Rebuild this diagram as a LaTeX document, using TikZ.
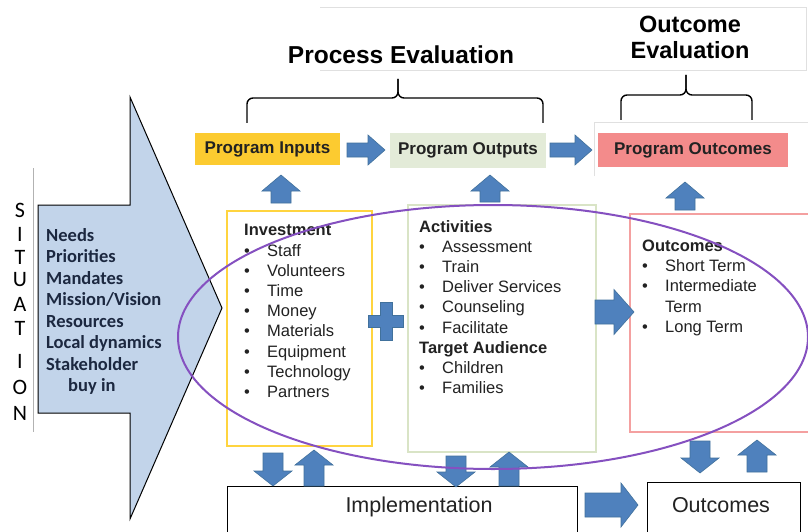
\documentclass[tikz,border=0pt]{standalone}
\usepackage{fontspec}
\setmainfont{Liberation Sans}
\newfontfamily\calfont{Carlito}
\usetikzlibrary{calc}
\definecolor{ablue}{HTML}{4F81BD}
\definecolor{aedge}{HTML}{41719C}
\definecolor{sitblue}{HTML}{C2D4EA}
\definecolor{inyellow}{HTML}{FCCB30}
\definecolor{outgreen}{HTML}{E3EBD8}
\definecolor{ocred}{HTML}{F38B8B}
\definecolor{boxyellow}{HTML}{FFD43F}
\definecolor{boxgreen}{HTML}{D9E4C6}
\definecolor{boxpink}{HTML}{F4A0A0}
\definecolor{purp}{HTML}{8550C0}
\definecolor{navy}{HTML}{1C2840}
\definecolor{txt}{HTML}{222222}
\tikzset{
  pics/barrow/.style n args={4}{code={
    \filldraw[fill=ablue, draw=aedge, line width=0.6]
      (-#1/2,-#2) -- (#1/2-#4,-#2) -- (#1/2-#4,-#3) -- (#1/2,0) --
      (#1/2-#4,#3) -- (#1/2-#4,#2) -- (-#1/2,#2) -- cycle;
  }},
  toplabel/.style={inner sep=0, font=\fontsize{17}{19}\selectfont\bfseries, text=txt},
  item/.style={anchor=base west, inner sep=0, font=\fontsize{16.5}{18}\selectfont, text=txt},
  ititle/.style={anchor=base west, inner sep=0, font=\fontsize{16.5}{18}\selectfont\bfseries, text=txt},
  sitline/.style={anchor=base west, inner sep=0, font=\calfont\bfseries\fontsize{18.5}{21}\selectfont, text=navy},
  sitl/.style={inner sep=0, font=\calfont\fontsize{22}{24}\selectfont, text=black},
  evtitle/.style={inner sep=0, font=\fontsize{23.5}{26}\selectfont\bfseries, text=black, align=center},
  bottomlabel/.style={inner sep=0, font=\fontsize{21.5}{24}\selectfont, text=txt},
  brace/.style={line width=1.4, rounded corners=6},
  faint/.style={draw=black!12, line width=0.8},
}
\begin{document}
\begin{tikzpicture}[x=1pt,y=-1pt]
\useasboundingbox (0,0) rectangle (808,532);
\fill[white] (0,0) rectangle (808,532);

% faint frame lines
\draw[faint] (320,7) -- (806,7) -- (806,70) -- (320,70);
\draw[faint] (594,176) -- (594,122) -- (808,122);
\draw[draw=black!30, line width=0.8] (33,168) -- (33,432);

% evaluation titles and braces
\node[evtitle, font=\fontsize{24.5}{26}\selectfont\bfseries] (pe) at (401,55) {Process Evaluation};
\node[evtitle] (oe1) at (690,24) {Outcome};
\node[evtitle] (oe2) at (690,50) {Evaluation};
\draw[brace] (247,123) -- (247,98) -- (398,98) -- (398,79);
\draw[brace] (543,123) -- (543,98) -- (398,98) -- (398,79);
\draw[brace] (621,120) -- (621,95) -- (686,95) -- (686,75);
\draw[brace] (752,120) -- (752,95) -- (686,95) -- (686,75);

% situation arrow
\draw[fill=sitblue, line width=1] (38,205) -- (130,205) -- (130,97) -- (222,308)
  -- (130,519) -- (130,413) -- (38,413) -- cycle;
\foreach \t [count=\i from 0] in {Needs,Priorities,Mandates,Mission/Vision,Resources,Local dynamics,Stakeholder}
  \node[sitline] (sit\i) at (46,241+21.5*\i) {\t};
\node[sitline] (sit7) at (68,391.5) {buy in};
\foreach \L/\yy [count=\i] in {S/210,I/234,T/257,U/280,A/304,T/328,I/361,O/387,N/413}
  \node[sitl] (sl\i) at (20,\yy) {\L};

% top program boxes
\node[fill=inyellow, minimum width=145, minimum height=32, inner sep=0] (pin) at (267.5,149) {};
\node[toplabel] (pinl) at (pin.center) {Program Inputs};
\node[fill=outgreen, minimum width=156, minimum height=35, inner sep=0] (pout) at (468,150.5) {};
\node[toplabel] (poutl) at (pout.center) {Program Outputs};
\node[fill=ocred, minimum width=190, minimum height=34, inner sep=0] (poc) at (693,150) {};
\node[toplabel] (pocl) at (poc.center) {Program Outcomes};

\pic at (366,150) {barrow={38}{7}{15}{17}};
\pic at (571,150) {barrow={42}{7}{15}{17}};

% up arrows to program boxes
\pic[rotate=90] at (281,189) {barrow={28}{10}{19}{16}};
\pic[rotate=90] at (490,188.5) {barrow={27}{10}{19}{16}};
\pic[rotate=90] at (685,196) {barrow={28}{10}{19}{16}};

% content boxes
\draw[draw=boxyellow, line width=2.5] (227,211) rectangle (372,446);
\draw[draw=boxgreen, line width=2] (408,205) rectangle (596,452);
\draw[draw=boxpink, line width=2.2] (812,214) -- (630,214) -- (630,432) -- (812,432);

% investment
\node[ititle] (invh) at (244,235.5) {Investment};
\foreach \t [count=\i from 0] in {Staff,Volunteers,Time,Money,Materials,Equipment,Technology,Partners}{
  \node[item] (invb\i) at (244,256+20.2*\i) {•};
  \node[item] (inv\i) at (267,256+20.2*\i) {\t};
}
% activities
\node[ititle] (acth) at (419,232.5) {Activities};
\foreach \t [count=\i from 0] in {Assessment,Train,Deliver Services,Counseling,Facilitate}{
  \node[item] (actb\i) at (419,252.6+20.1*\i) {•};
  \node[item] (act\i) at (442,252.6+20.1*\i) {\t};
}
\node[ititle] (tah) at (419,353.5) {Target Audience};
\foreach \t [count=\i from 0] in {Children,Families}{
  \node[item] (tab\i) at (419,373.6+20.1*\i) {•};
  \node[item] (ta\i) at (442,373.6+20.1*\i) {\t};
}
% outcomes
\node[ititle] (och) at (642,251.5) {Outcomes};
\node[item] (ocb0) at (642,271.7) {•};
\node[item] (oc0) at (665,271.7) {Short Term};
\node[item] (ocb1) at (642,291.9) {•};
\node[item] (oc1) at (665,291.9) {Intermediate};
\node[item] (oc1b) at (665,312.1) {Term};
\node[item] (ocb2) at (642,332.3) {•};
\node[item] (oc2) at (665,332.3) {Long Term};

% plus and middle arrow
\filldraw[fill=ablue, draw=aedge, line width=0.6] (380,302) -- (392,302) -- (392,315) -- (403,315)
  -- (403,327) -- (392,327) -- (392,340) -- (380,340) -- (380,327) -- (368,327)
  -- (368,315) -- (380,315) -- cycle;
\pic at (614.5,312) {barrow={39}{12}{22.5}{20}};

% bottom boxes
\node[draw, line width=1, minimum width=350, minimum height=60, anchor=north west, inner sep=0] (impl) at (227,486) {};
\node[bottomlabel] (implt) at (419,507) {Implementation};
\node[draw, line width=1, minimum width=153, minimum height=60, anchor=north west, inner sep=0] (ocbox) at (647,482) {};
\node[bottomlabel] (ocboxt) at (721,505) {Outcomes};
\pic at (611.5,505) {barrow={53}{12}{22}{17}};

% bottom up/down arrows
\pic[rotate=-90] at (273,469.5) {barrow={33}{10}{19}{15}};
\pic[rotate=90] at (314,468) {barrow={36}{10}{19}{15}};
\pic[rotate=-90] at (456,471.5) {barrow={31}{10}{19}{15}};
\pic[rotate=90] at (509,469) {barrow={34}{10}{19}{15}};
\pic[rotate=-90] at (700,457) {barrow={32}{10}{19}{15}};
\pic[rotate=90] at (757,456) {barrow={32}{10}{19}{15}};

% purple ellipse
\draw[purp, line width=2] (493,337) ellipse [x radius=315pt, y radius=132pt];
\end{tikzpicture}
\end{document}
